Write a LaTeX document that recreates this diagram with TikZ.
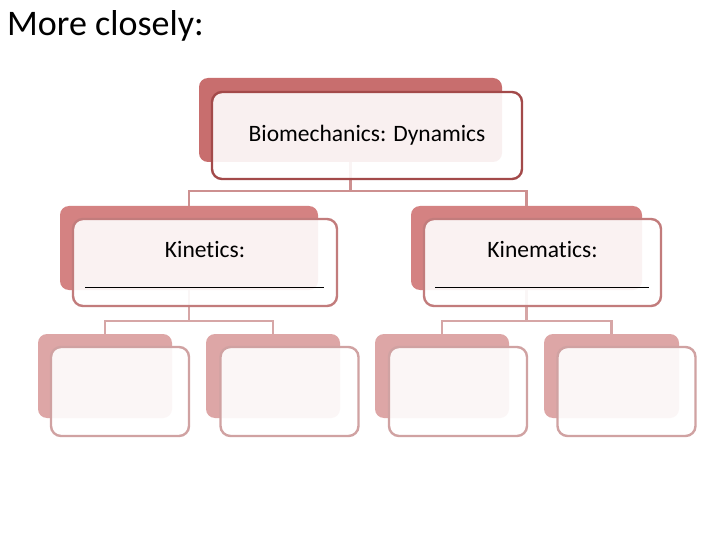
\documentclass[tikz,border=0pt]{standalone}
\usepackage{fontspec}
\setmainfont[Ligatures=NoCommon]{Carlito}
\begin{document}
\begin{tikzpicture}[x=1pt,y=-1pt,
  backbox/.style={rectangle, rounded corners=9pt, inner sep=0pt, outer sep=0pt},
  frontbox/.style={rectangle, rounded corners=10pt, inner sep=0pt, outer sep=0pt, line width=2.4pt, fill=white, fill opacity=0.9, draw opacity=1},
  lvA/.style={fill=backA}, lvB/.style={fill=backB}, lvC/.style={fill=backC},
  frA/.style={frontbox, draw=lineA, minimum width=310pt, minimum height=87pt},
  frB/.style={frontbox, draw=lineB, minimum width=264pt, minimum height=87pt},
  frC/.style={frontbox, draw=lineC, minimum width=138pt, minimum height=89pt},
  connA/.style={draw=connColA, line width=2.4pt},
  connB/.style={draw=connColB, line width=2.4pt},
  lbl/.style={font=\fontsize{23.5}{28}\selectfont, text=black, inner sep=0pt},
  uline/.style={draw=black, line width=0.8pt}
]
\definecolor{backA}{HTML}{C86E6E}
\definecolor{backB}{HTML}{D48282}
\definecolor{backC}{HTML}{DDA6A6}
\definecolor{lineA}{HTML}{A34A4A}
\definecolor{lineB}{HTML}{C27C7C}
\definecolor{lineC}{HTML}{D0A2A2}
\definecolor{connColA}{HTML}{CD9090}
\definecolor{connColB}{HTML}{D6A6A6}
\useasboundingbox[fill=white] (0,0) rectangle (720,540);

\node[anchor=west, inner sep=0pt, font=\fontsize{36}{42}\selectfont] (title) at (7,26) {More closely:};

% back boxes
\node[backbox, lvA, minimum width=303pt, minimum height=84pt] (tb) at (350.5,120) {};
\node[backbox, lvB, minimum width=258pt, minimum height=84pt] (kb) at (189,248) {};
\node[backbox, lvB, minimum width=231pt, minimum height=84pt] (mb) at (526.5,248) {};
\node[backbox, lvC, minimum width=134pt, minimum height=84pt] (b1) at (105,376) {};
\node[backbox, lvC, minimum width=134pt, minimum height=84pt] (b2) at (273,376) {};
\node[backbox, lvC, minimum width=134pt, minimum height=84pt] (b3) at (442,376) {};
\node[backbox, lvC, minimum width=135pt, minimum height=84pt] (b4) at (611.5,376) {};

% connectors
\draw[connA] (tb.south) -- ++(0,29) -| (kb.north);
\draw[connA] (tb.south) -- ++(0,29) -| (mb.north);
\draw[connB] (kb.south) -- ++(0,31) -| (b1.north);
\draw[connB] (kb.south) -- ++(0,31) -| (b2.north);
\draw[connB] (mb.south) -- ++(0,31) -| (b3.north);
\draw[connB] (mb.south) -- ++(0,31) -| (b4.north);

% front boxes
\node[frA] (tf) at (367,135.5) {};
\node[frB] (kf) at (205,262.5) {};
\node[frB, minimum width=237pt] (mf) at (542.5,262.5) {};
\node[frC] (f1) at (120,391.5) {};
\node[frC] (f2) at (289.5,391.5) {};
\node[frC] (f3) at (458,391.5) {};
\node[frC] (f4) at (626.5,391.5) {};

% texts
\node[lbl] (tt) at (tf.center) {Biomechanics: Dynamics};
\node[lbl] (kt) at (205,250) {Kinetics:};
\node[lbl] (mt) at (542.5,250) {Kinematics:};

% underlines
\coordinate (ka) at (85,287);
\coordinate (kz) at (324,287);
\coordinate (ma) at (435,287);
\coordinate (mz) at (649,287);
\draw[uline] (ka) -- (kz);
\draw[uline] (ma) -- (mz);
\end{tikzpicture}
\end{document}
